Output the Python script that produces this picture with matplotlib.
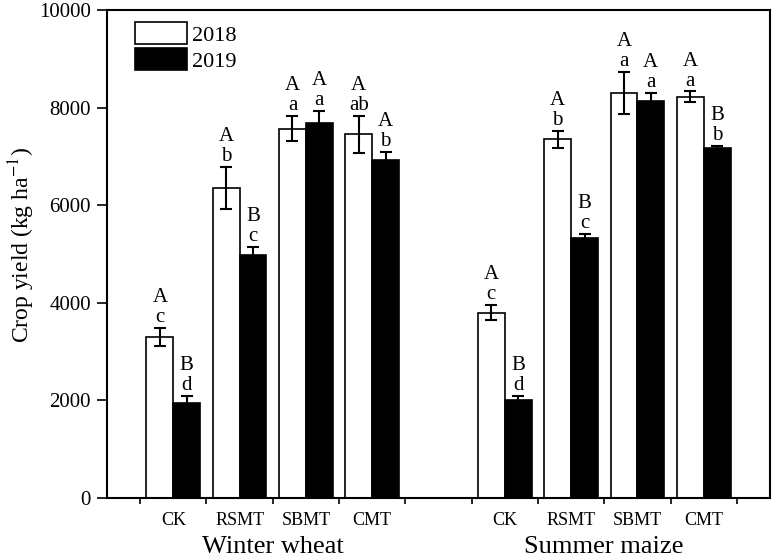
import numpy as np
import matplotlib
matplotlib.use('Agg')
import matplotlib.pyplot as plt
from matplotlib.patches import Patch
import matplotlib.transforms as mtransforms

plt.rcParams['font.family'] = 'Liberation Serif'
plt.rcParams['mathtext.fontset'] = 'stix'

#%% data
treatments = ['CK', 'RSMT', 'SBMT', 'CMT']
crops = ['Winter wheat', 'Summer maize']
years = ['2018', '2019']

wheat_2018 = [3300, 6350, 7570, 7450]
wheat_2018_err = [190, 430, 260, 380]
wheat_2019 = [1950, 4980, 7680, 6920]
wheat_2019_err = [150, 170, 260, 180]

maize_2018 = [3800, 7350, 8300, 8220]
maize_2018_err = [160, 180, 430, 110]
maize_2019 = [2000, 5330, 8130, 7180]
maize_2019_err = [100, 80, 160, 40]

wheat_letters_2018 = [('A', 'c'), ('A', 'b'), ('A', 'a'), ('A', 'ab')]
wheat_letters_2019 = [('B', 'd'), ('B', 'c'), ('A', 'a'), ('A', 'b')]
maize_letters_2018 = [('A', 'c'), ('A', 'b'), ('A', 'a'), ('A', 'a')]
maize_letters_2019 = [('B', 'd'), ('B', 'c'), ('A', 'a'), ('B', 'b')]

#%% plot
pos_wheat = np.array([1, 2, 3, 4])
pos_maize = np.array([6, 7, 8, 9])
w = 0.405

fig = plt.figure(figsize=(7.74, 5.57), dpi=100)
ax = fig.add_axes([107/774, 1-498/557, (770-107)/774, (498-10)/557])

err_kw = dict(elinewidth=1.5, capthick=1.5, ecolor='black')

def draw(pos, v18, e18, v19, e19, l18, l19):
    ax.bar(pos - w/2, v18, w, color='white', edgecolor='black', lw=1.2,
           yerr=e18, capsize=4, error_kw=err_kw, zorder=2)
    ax.bar(pos + w/2, v19, w, color='black', edgecolor='black', lw=1.2,
           yerr=e19, capsize=4, error_kw=err_kw, zorder=2)
    for xs, vals, errs, labs in [(pos - w/2, v18, e18, l18), (pos + w/2, v19, e19, l19)]:
        for x, v, e, (up, low) in zip(xs, vals, errs, labs):
            ax.annotate(low, (x, v + e), xytext=(0, 4.3), textcoords='offset points',
                        ha='center', va='baseline', fontsize=15)
            ax.annotate(up, (x, v + e), xytext=(0, 18.7), textcoords='offset points',
                        ha='center', va='baseline', fontsize=15)

draw(pos_wheat, wheat_2018, wheat_2018_err, wheat_2019, wheat_2019_err,
     wheat_letters_2018, wheat_letters_2019)
draw(pos_maize, maize_2018, maize_2018_err, maize_2019, maize_2019_err,
     maize_letters_2018, maize_letters_2019)

ax.set_xlim(0, 10)
ax.set_ylim(0, 10000)
ax.set_yticks(np.arange(0, 10001, 2000))
ax.tick_params(axis='y', direction='out', length=7.5, width=1.2, labelsize=15, pad=4)

ax.set_xticks(np.arange(0.5, 10, 1))
ax.set_xticklabels([])
ax.set_xticks(np.concatenate([pos_wheat, pos_maize]), minor=True)
ax.set_xticklabels(treatments + treatments, minor=True)
ax.tick_params(axis='x', which='major', direction='out', length=4.5, width=1.2)
ax.tick_params(axis='x', which='minor', length=0, labelsize=13, pad=10)

for s in ax.spines.values():
    s.set_linewidth(1.5)

trans = mtransforms.blended_transform_factory(ax.transData, ax.transAxes)
ax.text(2.5, -0.101, crops[0], transform=trans, ha='center', va='center', fontsize=19)
ax.text(7.5, -0.101, crops[1], transform=trans, ha='center', va='center', fontsize=19)

fig.text(22/774, 1-245/557, 'Crop yield (kg ha$^{-1}$)', rotation=90,
         ha='center', va='center', fontsize=17)

handles = [Patch(facecolor='white', edgecolor='black', lw=1.2),
           Patch(facecolor='black', edgecolor='black', lw=1.2)]
ax.legend(handles, years, loc='upper left', bbox_to_anchor=(0.042, 0.975),
          frameon=False, fontsize=16, handlelength=2.35, handleheight=1.15,
          labelspacing=0.1, handletextpad=0.2, borderpad=0, borderaxespad=0)

plt.savefig('out.png', dpi=100)
